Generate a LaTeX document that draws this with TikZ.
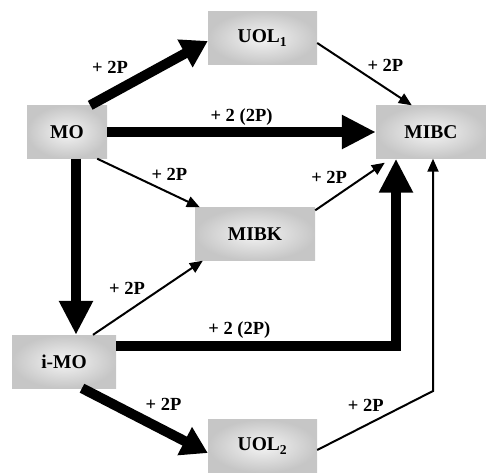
\documentclass[tikz,border=0pt]{standalone}
\usepackage{fontspec}
\setmainfont{Liberation Serif}
\usetikzlibrary{arrows.meta}
\definecolor{BoxRim}{HTML}{C6C6C6}
\definecolor{BoxCore}{HTML}{F4F4F4}

\begin{document}
\begin{tikzpicture}[x=1pt,y=-1pt,
    species/.style={inner color=BoxCore, outer color=BoxRim, minimum height=53pt,
        inner sep=0pt, font=\fontsize{19.5}{21}\selectfont\bfseries},
    fine/.style={line width=2pt, -{Triangle[length=13pt,width=11pt]}},
    heavy/.style={line width=10pt, -{Triangle[length=26pt,width=30pt]}},
    bulk/.style={line width=10pt, -{Triangle[length=34pt,width=32pt]}},
    gain/.style={font=\fontsize{18.5}{20}\selectfont\bfseries, inner sep=2pt}]
        \useasboundingbox (0,0) rectangle (486,472);

        \node[species, minimum width=109pt] (UOLa) at (262.5,38) {UOL\textsubscript{1}};
        \node[species, minimum width=80pt] (MO) at (67,132) {MO};
        \node[species, minimum width=110pt] (MIBC) at (431,132) {MIBC};
        \node[species, minimum width=120pt] (MIBK) at (255,234) {MIBK};
        \node[species, minimum width=104pt] (iMO) at (64,361.5) {i-MO};
        \node[species, minimum width=109pt] (UOLb) at (262.5,446) {UOL\textsubscript{2}};

        \coordinate (knee) at (433,391);

        \draw[heavy] ([xshift=-17pt]MO.north east) -- ([yshift=-3pt]UOLa.west)
            node[gain, pos=0.38, above left] {+ 2P};
        \draw[fine] ([yshift=-5pt]UOLa.east) -- ([xshift=36pt]MIBC.north west)
            node[gain, midway, above right] {+ 2P};
        \draw[bulk] (MO.east) -- (MIBC.west)
            node[gain, midway, above] {+ 2 (2P)};
        \draw[fine] ([xshift=-10pt]MO.south east) -- ([xshift=5pt]MIBK.north west)
            node[gain, midway, above right] {+ 2P};
        \draw[fine] ([yshift=-3pt]MIBK.north east) -- ([xshift=9pt,yshift=-4pt]MIBC.south west)
            node[gain, midway, above left] {+ 2P};

        \draw[bulk] ([xshift=9pt]MO.south) -- ([xshift=9pt]MO.south |- iMO.north);
        \draw[fine] ([xshift=29pt]iMO.north) -- ([xshift=8pt]MIBK.south west)
            node[gain, midway, above left] {+ 2P};
        \draw[bulk] ([yshift=16pt]iMO.east) -| ([xshift=-35pt]MIBC.south)
            node[gain, pos=0.22, above] {+ 2 (2P)};
        \draw[heavy] ([xshift=18pt]iMO.south) -- ([yshift=-7pt]UOLb.west)
            node[gain, pos=0.45, above right] {+ 2P};
        \draw[fine] ([yshift=-4pt]UOLb.east) -- (knee)
            node[gain, pos=0.6, above left] {+ 2P}
            -- (knee |- MIBC.south);
\end{tikzpicture}
\end{document}
